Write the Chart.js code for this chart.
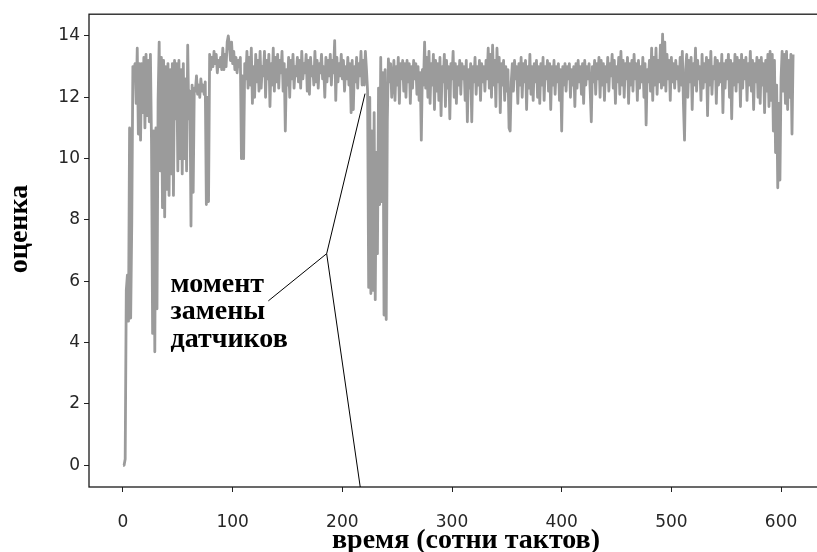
<!DOCTYPE html>
<html>
<head>
<meta charset="utf-8">
<script src="https://cdn.jsdelivr.net/npm/chart.js@4.4.1/dist/chart.umd.min.js"></script>
<style>
    html, body { margin: 0; padding: 0; background: #fff; overflow: hidden; }
    #wrap { width: 870px; height: 552px; }
</style>
</head>
<body>
<div id="wrap"><canvas id="grafico" width="870" height="552"></canvas></div>
<script>
// оценка по тактам (сотни тактов)
const scores = [
    0.0, 0.0, 0.2, 5.7, 6.2, 4.7, 11.0, 4.8, 7.9, 13.0,
    12.9, 13.1, 11.8, 13.6, 10.8, 13.1, 10.6, 13.1, 11.5, 13.3,
    11.0, 13.4, 11.4, 13.2, 11.2, 13.4, 10.5, 4.3, 10.9, 3.7,
    11.0, 5.1, 11.9, 13.8, 9.6, 13.3, 8.4, 13.2, 8.1, 13.0,
    9.0, 13.1, 8.8, 12.9, 9.5, 13.1, 8.8, 13.2, 11.3, 13.1,
    9.6, 13.2, 10.0, 12.9, 9.5, 13.1, 10.0, 12.6, 9.6, 13.7,
    11.3, 12.2, 7.8, 12.4, 8.9, 12.3, 12.2, 12.7, 12.1, 12.4,
    12.0, 12.6, 12.2, 12.4, 12.1, 12.5, 8.5, 12.0, 8.6, 13.4,
    12.9, 13.3, 13.0, 13.5, 13.1, 13.4, 12.8, 13.2, 13.0, 13.3,
    12.9, 13.6, 12.9, 13.4, 13.0, 13.8, 14.0, 13.7, 13.2, 13.8,
    13.1, 13.5, 12.9, 13.3, 12.8, 13.2, 13.0, 13.3, 10.0, 12.7,
    10.0, 13.1, 12.6, 13.5, 12.3, 13.3, 12.4, 13.6, 11.8, 13.0,
    12.0, 13.4, 12.5, 13.2, 12.2, 13.5, 12.3, 13.0, 12.7, 13.5,
    12.0, 13.2, 12.6, 13.4, 11.7, 13.1, 12.4, 13.6, 12.2, 13.3,
    12.5, 13.4, 12.3, 13.2, 12.8, 13.5, 12.2, 13.1, 10.9, 12.9,
    12.4, 13.3, 12.0, 13.2, 12.6, 13.4, 12.3, 13.0, 12.7, 13.3,
    12.5, 13.2, 12.3, 13.5, 12.6, 13.1, 12.8, 13.4, 12.2, 13.2,
    12.1, 13.3, 12.7, 13.0, 12.4, 13.5, 12.5, 13.2, 12.3, 13.1,
    12.8, 13.4, 12.6, 13.0, 12.0, 13.3, 12.5, 13.2, 12.7, 13.4,
    12.4, 13.2, 12.8, 13.85, 11.9, 13.3, 12.5, 13.1, 12.7, 13.4,
    12.6, 13.2, 12.2, 13.0, 12.6, 13.3, 12.4, 13.1, 11.5, 13.2,
    11.6, 13.0, 12.5, 13.3, 12.3, 13.1, 12.7, 13.5, 12.4, 13.2,
    12.4, 13.5, 12.9, 12.2, 5.8, 12.0, 5.6, 10.9, 5.7, 11.5,
    5.4, 10.2, 6.9, 12.3, 8.5, 13.3, 8.6, 12.8, 4.9, 12.9,
    4.75, 11.2, 13.25, 12.5, 13.1, 12.0, 12.5, 13.2, 11.9, 13.0,
    12.4, 13.3, 11.8, 13.1, 12.6, 13.2, 12.2, 13.1, 12.0, 13.2,
    12.5, 13.1, 11.8, 13.0, 12.3, 13.2, 12.6, 13.1, 12.1, 13.0,
    11.9, 12.8, 10.6, 12.9, 12.4, 13.8, 12.3, 13.3, 12.0, 13.5,
    11.8, 13.1, 12.4, 13.4, 11.6, 13.2, 12.2, 13.1, 11.9, 13.3,
    11.4, 13.0, 12.5, 13.4, 11.7, 13.2, 12.3, 13.0, 11.3, 13.1,
    12.6, 13.5, 12.0, 13.1, 11.8, 13.0, 12.4, 13.2, 12.1, 13.1,
    12.6, 13.0, 11.9, 13.2, 11.2, 12.9, 12.3, 13.1, 11.2, 13.0,
    12.5, 13.3, 12.1, 13.0, 12.4, 13.2, 11.9, 13.1, 12.5, 13.0,
    12.2, 13.2, 12.6, 13.6, 12.3, 13.4, 12.0, 13.7, 12.4, 13.2,
    11.7, 13.6, 12.5, 13.3, 11.5, 13.1, 12.4, 13.2, 11.9, 13.0,
    12.2, 12.9, 11.0, 10.9, 12.5, 13.1, 12.2, 13.2, 12.6, 13.0,
    11.8, 13.1, 12.4, 13.3, 12.0, 13.1, 12.5, 13.2, 11.6, 13.0,
    12.3, 13.4, 12.1, 13.0, 11.9, 13.1, 12.5, 13.2, 12.0, 13.0,
    11.8, 13.1, 12.4, 13.3, 11.9, 13.0, 12.6, 13.2, 12.2, 13.1,
    11.6, 13.0, 12.4, 13.2, 12.1, 13.0, 12.5, 13.1, 11.9, 12.9,
    10.9, 13.0, 12.4, 13.1, 12.2, 13.0, 12.6, 13.1, 12.0, 12.9,
    12.4, 13.0, 11.7, 13.1, 12.3, 13.2, 12.5, 13.0, 12.1, 13.1,
    11.8, 13.2, 12.4, 13.0, 12.6, 13.1, 12.2, 11.2, 13.0, 12.5,
    13.2, 12.1, 13.1, 12.6, 13.3, 12.0, 13.2, 12.4, 13.1, 11.9,
    13.0, 12.5, 13.3, 12.2, 13.1, 12.7, 13.4, 12.3, 13.2, 11.8,
    13.0, 12.5, 13.3, 12.1, 13.5, 12.4, 13.2, 12.0, 13.1, 12.6,
    13.3, 11.8, 13.1, 12.4, 13.2, 12.2, 13.4, 12.6, 13.1, 11.9,
    13.2, 12.3, 13.0, 12.5, 13.3, 12.0, 13.1, 11.1, 12.9, 12.5,
    13.2, 12.2, 13.6, 11.9, 13.3, 12.4, 13.6, 12.1, 13.2, 12.5,
    13.7, 12.3, 14.06, 12.4, 13.8, 12.2, 13.4, 12.6, 13.2, 11.9,
    13.3, 12.5, 13.1, 12.3, 13.2, 12.6, 13.0, 12.2, 13.3, 12.4,
    13.5, 11.8, 10.6, 12.9, 13.4, 12.0, 13.2, 12.5, 13.3, 11.6,
    13.1, 12.4, 13.6, 12.2, 13.2, 12.6, 13.0, 11.9, 13.4, 12.3,
    13.1, 12.5, 13.3, 11.4, 13.2, 12.4, 13.5, 12.1, 13.0, 12.6,
    13.3, 11.8, 13.2, 12.4, 13.1, 12.5, 13.4, 11.5, 13.1, 12.3,
    13.2, 12.6, 13.4, 12.0, 13.2, 11.3, 13.1, 12.4, 13.4, 12.2,
    13.3, 12.5, 13.2, 11.7, 13.4, 12.3, 13.2, 12.6, 13.3, 11.9,
    13.1, 12.4, 13.5, 12.2, 13.2, 11.6, 13.1, 12.5, 13.3, 12.0,
    13.2, 11.8, 13.3, 12.4, 13.1, 11.5, 13.2, 12.2, 13.4, 11.7,
    13.5, 11.9, 13.4, 10.9, 13.2, 10.2, 12.4, 9.05, 11.8, 9.3,
    12.6, 13.5, 12.2, 13.4, 11.8, 13.5, 11.6, 13.2, 12.0, 13.4,
    10.8, 13.4
];
const steps = scores.map((_, i) => i);
const xTicks = [0, 100, 200, 300, 400, 500, 600];
const yTicks = [0, 2, 4, 6, 8, 10, 12, 14];

const xTitle = "время (сотни тактов)";
const yTitle = "оценка";
const noteText = ["момент", "замены", "датчиков"];

// выноска: начало у текста, точка излома, две цели (в единицах осей)
const noteFrom = [132.5, 5.36];
const noteJoint = [185.7, 6.9];
const noteTargets = [[220.7, 12.12], [216.3, -0.71]];
const noteTextAt = [43.3, 5.66];

const serif = "bold 28px 'Liberation Serif', 'Times New Roman', serif";

const frameAndNotes = {
    id: "frameAndNotes",
    afterDraw(chart) {
        const { ctx, chartArea: a, scales: { x, y } } = chart;
        ctx.save();

        // рамка
        ctx.strokeStyle = "#1a1a1a";
        ctx.lineWidth = 1.3;
        ctx.strokeRect(a.left, a.top, a.right - a.left, a.bottom - a.top);

        // выноска
        const jx = x.getPixelForValue(noteJoint[0]);
        const jy = y.getPixelForValue(noteJoint[1]);
        ctx.strokeStyle = "#000";
        ctx.lineWidth = 1;
        ctx.beginPath();
        ctx.moveTo(x.getPixelForValue(noteFrom[0]), y.getPixelForValue(noteFrom[1]));
        ctx.lineTo(jx, jy);
        noteTargets.forEach(t => {
            ctx.moveTo(jx, jy);
            ctx.lineTo(x.getPixelForValue(t[0]), y.getPixelForValue(t[1]));
        });
        ctx.stroke();

        ctx.fillStyle = "#000";
        ctx.font = serif;
        ctx.textAlign = "left";
        ctx.textBaseline = "alphabetic";
        const tx = x.getPixelForValue(noteTextAt[0]);
        const ty = y.getPixelForValue(noteTextAt[1]);
        noteText.forEach((t, i) => ctx.fillText(t, tx, ty + i * 27.5));

        // подписи осей
        ctx.textAlign = "center";
        ctx.fillText(xTitle, 466, 548);
        ctx.translate(27, 229);
        ctx.rotate(-Math.PI / 2);
        ctx.fillText(yTitle, 0, 0);

        ctx.restore();
    }
};

const tickFont = { family: "'DejaVu Sans', sans-serif", size: 17 };

new Chart(document.getElementById("grafico"), {
    type: "line",
    data: {
        datasets: [{
            data: scores.map((v, i) => ({ x: steps[i], y: v })),
            borderColor: "#9b9b9b",
            borderWidth: 2.8,
            borderJoinStyle: "round",
            pointRadius: 0,
            tension: 0,
            fill: false
        }]
    },
    options: {
        responsive: false,
        animation: false,
        events: [],
        layout: { padding: { top: 10, right: 10, left: 0, bottom: 0 } },
        plugins: {
            legend: { display: false },
            tooltip: { enabled: false }
        },
        scales: {
            x: {
                type: "linear",
                min: -31,
                max: 672,
                afterBuildTicks: s => { s.ticks = xTicks.map(v => ({ value: v })); },
                afterFit: s => { s.height = 65; },
                grid: { drawOnChartArea: false, drawTicks: true, tickLength: 5, color: "#222" },
                border: { display: false },
                ticks: { font: tickFont, color: "#262626", padding: 20, maxRotation: 0 }
            },
            y: {
                min: -0.71,
                max: 14.71,
                afterBuildTicks: s => { s.ticks = yTicks.map(v => ({ value: v })); },
                afterFit: s => { s.width = 89; },
                grid: { drawOnChartArea: false, drawTicks: true, tickLength: 5, color: "#222" },
                border: { display: false },
                ticks: { font: tickFont, color: "#262626", padding: 4 }
            }
        }
    },
    plugins: [frameAndNotes]
});
</script>
</body>
</html>
